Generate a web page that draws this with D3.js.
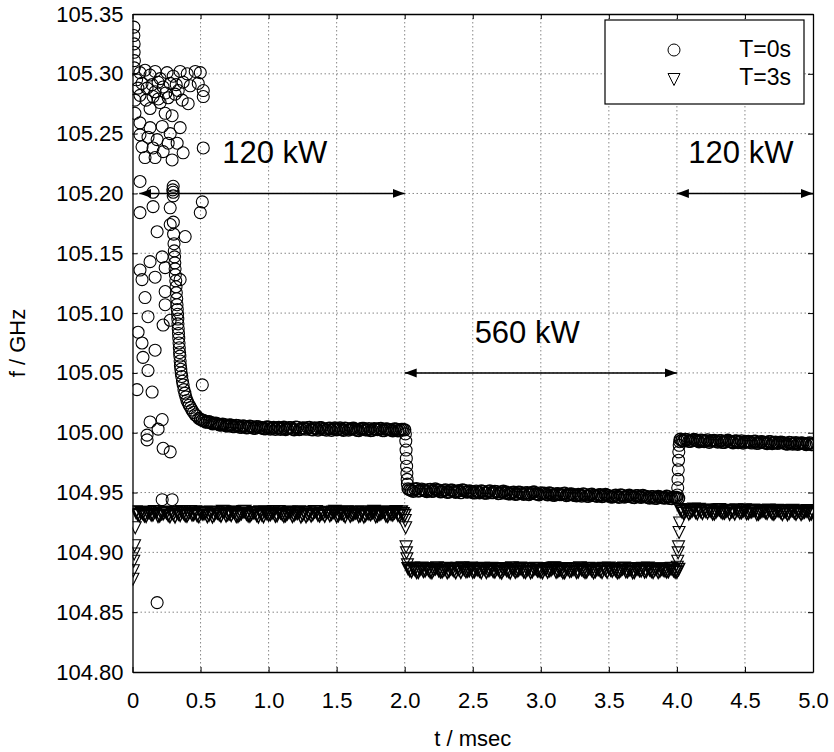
<!DOCTYPE html>
<html>
<head>
<meta charset="utf-8">
<script src="https://cdn.jsdelivr.net/npm/d3@7"></script>
<style>
  body { margin: 0; background: #fff; }
  svg { display: block; font-family: "Liberation Sans", Arial, sans-serif; }
</style>
</head>
<body>
<svg id="drawing_region"></svg>
<script>
// axis ticks
const xTicks = [0, 0.5, 1.0, 1.5, 2.0, 2.5, 3.0, 3.5, 4.0, 4.5, 5.0];
const xTickLabels = ["0", "0.5", "1.0", "1.5", "2.0", "2.5", "3.0", "3.5", "4.0", "4.5", "5.0"];
const yTicks = [104.80, 104.85, 104.90, 104.95, 105.00, 105.05, 105.10, 105.15, 105.20, 105.25, 105.30, 105.35];
const yTickLabels = ["104.80", "104.85", "104.90", "104.95", "105.00", "105.05", "105.10", "105.15", "105.20", "105.25", "105.30", "105.35"];

const seriesNames = ["T=0s", "T=3s"];

// sampling step of the dense bands (msec); the "Mid" arrays are the samples half a step later
const bandStep = 0.025;

// T=0s : scattered start-up points [t, f]
const circleScatter = [
  [0.010, 105.339], [0.010, 105.332], [0.012, 105.325], [0.012, 105.318], [0.014, 105.311], [0.014, 105.305],
  [0.055, 105.301], [0.092, 105.303], [0.129, 105.299], [0.166, 105.302], [0.203, 105.296], [0.254, 105.301],
  [0.299, 105.298], [0.350, 105.302], [0.402, 105.300], [0.461, 105.302], [0.498, 105.301], [0.070, 105.292],
  [0.107, 105.288], [0.144, 105.291], [0.188, 105.293], [0.225, 105.289], [0.277, 105.292], [0.321, 105.291],
  [0.372, 105.293], [0.424, 105.290], [0.483, 105.292], [0.520, 105.286], [0.055, 105.282], [0.100, 105.278],
  [0.151, 105.281], [0.203, 105.276], [0.262, 105.280], [0.313, 105.283], [0.365, 105.278], [0.409, 105.275],
  [0.520, 105.281], [0.129, 105.271], [0.240, 105.267], [0.291, 105.265], [0.018, 105.278], [0.018, 105.267],
  [0.166, 105.285], [0.336, 105.286], [0.030, 105.295], [0.040, 105.288], [0.245, 105.284], [0.190, 105.279],
  [0.055, 105.259], [0.129, 105.255], [0.218, 105.256], [0.277, 105.250], [0.055, 105.249], [0.114, 105.247],
  [0.181, 105.245], [0.262, 105.242], [0.328, 105.242], [0.372, 105.234], [0.070, 105.239], [0.151, 105.238],
  [0.225, 105.235], [0.291, 105.228], [0.092, 105.230], [0.166, 105.230], [0.350, 105.255], [0.520, 105.238],
  [0.055, 105.210], [0.151, 105.201], [0.299, 105.206], [0.299, 105.201], [0.299, 105.198], [0.513, 105.193],
  [0.498, 105.184], [0.055, 105.184], [0.151, 105.189], [0.277, 105.188], [0.181, 105.168], [0.277, 105.174],
  [0.387, 105.164],
  [0.055, 105.136], [0.070, 105.128], [0.129, 105.143], [0.166, 105.130], [0.218, 105.147], [0.240, 105.138],
  [0.350, 105.128], [0.092, 105.113], [0.114, 105.097], [0.240, 105.118], [0.240, 105.107], [0.225, 105.090],
  [0.277, 105.094],
  [0.041, 105.084], [0.070, 105.075], [0.166, 105.069], [0.077, 105.063], [0.114, 105.052], [0.033, 105.036],
  [0.144, 105.034], [0.513, 105.040],
  [0.129, 105.009], [0.218, 105.011], [0.188, 105.003], [0.107, 104.998], [0.107, 104.994], [0.225, 104.987],
  [0.277, 104.984], [0.218, 104.944], [0.291, 104.944], [0.181, 104.858]
];

// T=0s : decay after switch-on [t, f]
const circleDecay = [
  [0.296, 105.203], [0.300, 105.176], [0.302, 105.166], [0.305, 105.158], [0.307, 105.152], [0.309, 105.147],
  [0.311, 105.142], [0.313, 105.137], [0.315, 105.132], [0.318, 105.127], [0.320, 105.122], [0.322, 105.117],
  [0.325, 105.112], [0.327, 105.107], [0.329, 105.103], [0.331, 105.099], [0.333, 105.095], [0.334, 105.091],
  [0.336, 105.087], [0.338, 105.083], [0.340, 105.079], [0.342, 105.075], [0.344, 105.071], [0.346, 105.067],
  [0.348, 105.064], [0.350, 105.060], [0.352, 105.056], [0.355, 105.053], [0.358, 105.050], [0.362, 105.047],
  [0.367, 105.043], [0.372, 105.040], [0.378, 105.036], [0.385, 105.033], [0.392, 105.030], [0.400, 105.027],
  [0.408, 105.025], [0.417, 105.023], [0.427, 105.021], [0.437, 105.019], [0.448, 105.017], [0.460, 105.015],
  [0.472, 105.014], [0.486, 105.012]
];

// T=0s : 120 kW plateau, from t = 0.500
const circleBand1 = [
  105.0112, 105.0101, 105.0090, 105.0086, 105.0077, 105.0074, 105.0064, 105.0068, 105.0057, 105.0062,
  105.0051, 105.0058, 105.0046, 105.0053, 105.0043, 105.0050, 105.0037, 105.0049, 105.0041, 105.0033,
  105.0046, 105.0038, 105.0029, 105.0044, 105.0035, 105.0027, 105.0043, 105.0032, 105.0047, 105.0026,
  105.0039, 105.0030, 105.0044, 105.0024, 105.0036, 105.0041, 105.0028, 105.0022, 105.0038, 105.0033,
  105.0025, 105.0040, 105.0021, 105.0034, 105.0029, 105.0037, 105.0020, 105.0031, 105.0036, 105.0024,
  105.0018, 105.0033, 105.0027, 105.0035, 105.0019, 105.0030, 105.0023, 105.0032, 105.0017, 105.0028,
  105.0024
];
const circleBand1Mid = [
  105.0104, 105.0089, 105.0092, 105.0075, 105.0080, 105.0066, 105.0071, 105.0058, 105.0065, 105.0052,
  105.0060, 105.0047, 105.0056, 105.0042, 105.0054, 105.0039, 105.0051, 105.0044, 105.0035, 105.0048,
  105.0031, 105.0045, 105.0040, 105.0028, 105.0046, 105.0034, 105.0041, 105.0025, 105.0045, 105.0031,
  105.0037, 105.0043, 105.0027, 105.0039, 105.0023, 105.0042, 105.0030, 105.0035, 105.0021, 105.0039,
  105.0032, 105.0026, 105.0038, 105.0022, 105.0035, 105.0028, 105.0019, 105.0036, 105.0025, 105.0033,
  105.0021, 105.0030, 105.0034, 105.0018, 105.0031, 105.0026, 105.0016, 105.0030, 105.0022, 105.0027
];
// T=0s : step down at 2.0 msec [t, f]
const circleStep1 = [
  [2.005, 104.9990], [2.008, 104.9930], [2.010, 104.9855], [2.012, 104.9785],
  [2.014, 104.9720], [2.016, 104.9660], [2.018, 104.9610], [2.020, 104.9570]
];
// T=0s : 560 kW plateau, from t = 2.025
const circleBand2 = [
  104.9531, 104.9518, 104.9527, 104.9512, 104.9529, 104.9515, 104.9524, 104.9510, 104.9530, 104.9519,
  104.9508, 104.9522, 104.9505, 104.9519, 104.9503, 104.9516, 104.9521, 104.9506, 104.9514, 104.9501,
  104.9512, 104.9498, 104.9510, 104.9495, 104.9513, 104.9500, 104.9507, 104.9493, 104.9511, 104.9502,
  104.9490, 104.9503, 104.9488, 104.9501, 104.9485, 104.9499, 104.9492, 104.9504, 104.9487, 104.9497,
  104.9494, 104.9481, 104.9492, 104.9478, 104.9490, 104.9483, 104.9495, 104.9480, 104.9489, 104.9476,
  104.9485, 104.9471, 104.9483, 104.9469, 104.9486, 104.9474, 104.9480, 104.9467, 104.9484, 104.9472,
  104.9463, 104.9477, 104.9461, 104.9475, 104.9466, 104.9478, 104.9460, 104.9473, 104.9464, 104.9476,
  104.9468, 104.9455, 104.9466, 104.9452, 104.9463, 104.9457, 104.9469, 104.9451, 104.9462, 104.9456
];
const circleBand2Mid = [
  104.9524, 104.9511, 104.9533, 104.9516, 104.9521, 104.9508, 104.9526, 104.9513, 104.9519, 104.9507,
  104.9517, 104.9503, 104.9520, 104.9509, 104.9511, 104.9499, 104.9518, 104.9504, 104.9509, 104.9497,
  104.9506, 104.9514, 104.9496, 104.9508, 104.9499, 104.9510, 104.9491, 104.9505, 104.9496, 104.9489,
  104.9498, 104.9486, 104.9502, 104.9491, 104.9496, 104.9483, 104.9500, 104.9489, 104.9481, 104.9493,
  104.9487, 104.9496, 104.9479, 104.9488, 104.9484, 104.9491, 104.9475, 104.9486, 104.9482, 104.9473,
  104.9479, 104.9488, 104.9470, 104.9481, 104.9476, 104.9468, 104.9482, 104.9471, 104.9477, 104.9465,
  104.9472, 104.9466, 104.9479, 104.9462, 104.9471, 104.9469, 104.9458, 104.9474, 104.9461, 104.9467,
  104.9459, 104.9465, 104.9453, 104.9467, 104.9458, 104.9454, 104.9464, 104.9450, 104.9460, 104.9453
];
// T=0s : step up at 4.0 msec [t, f]
const circleStep2 = [
  [4.004, 104.9480], [4.006, 104.9540], [4.008, 104.9610], [4.010, 104.9690],
  [4.012, 104.9770], [4.014, 104.9840], [4.017, 104.9895], [4.020, 104.9925]
];
// T=0s : 120 kW plateau, from t = 4.025
const circleBand3 = [
  104.9945, 104.9932, 104.9941, 104.9929, 104.9944, 104.9933, 104.9938, 104.9926, 104.9940, 104.9930,
  104.9936, 104.9923, 104.9934, 104.9921, 104.9937, 104.9925, 104.9930, 104.9918, 104.9932, 104.9922,
  104.9927, 104.9915, 104.9929, 104.9913, 104.9924, 104.9917, 104.9926, 104.9910, 104.9921, 104.9914,
  104.9919, 104.9907, 104.9918, 104.9905, 104.9916, 104.9909, 104.9913, 104.9902, 104.9915, 104.9904
];
const circleBand3Mid = [
  104.9937, 104.9943, 104.9928, 104.9936, 104.9939, 104.9925, 104.9935, 104.9931, 104.9920, 104.9934,
  104.9928, 104.9933, 104.9919, 104.9929, 104.9926, 104.9916, 104.9931, 104.9923, 104.9914, 104.9925,
  104.9920, 104.9927, 104.9912, 104.9922, 104.9918, 104.9909, 104.9924, 104.9916, 104.9911, 104.9920,
  104.9913, 104.9906, 104.9917, 104.9910, 104.9903, 104.9914, 104.9908, 104.9911, 104.9901
];

// T=3s : start [t, f]
const triStep0 = [
  [0.003, 104.8780], [0.006, 104.8850], [0.009, 104.8930], [0.012, 104.8990], [0.015, 104.9060], [0.020, 104.9210]
];
// T=3s : 120 kW plateau, from t = 0.025
const triBand1 = [
  104.9341, 104.9312, 104.9330, 104.9305, 104.9338, 104.9318, 104.9344, 104.9309, 104.9327, 104.9335,
  104.9303, 104.9322, 104.9340, 104.9314, 104.9331, 104.9307, 104.9343, 104.9320, 104.9311, 104.9336,
  104.9326, 104.9304, 104.9339, 104.9316, 104.9333, 104.9308, 104.9342, 104.9321, 104.9313, 104.9337,
  104.9306, 104.9329, 104.9345, 104.9310, 104.9324, 104.9334, 104.9302, 104.9319, 104.9340, 104.9315,
  104.9332, 104.9307, 104.9343, 104.9323, 104.9311, 104.9338, 104.9305, 104.9328, 104.9341, 104.9317,
  104.9303, 104.9334, 104.9322, 104.9344, 104.9309, 104.9326, 104.9336, 104.9312, 104.9339, 104.9304,
  104.9330, 104.9318, 104.9342, 104.9308, 104.9325, 104.9337, 104.9314, 104.9301, 104.9333, 104.9320,
  104.9345, 104.9310, 104.9327, 104.9339, 104.9306, 104.9323, 104.9335, 104.9316, 104.9341, 104.9312
];
const triBand1Mid = [
  104.9322, 104.9338, 104.9309, 104.9333, 104.9317, 104.9343, 104.9306, 104.9329, 104.9340, 104.9313,
  104.9336, 104.9301, 104.9325, 104.9344, 104.9311, 104.9331, 104.9319, 104.9342, 104.9304, 104.9327,
  104.9337, 104.9315, 104.9302, 104.9335, 104.9321, 104.9345, 104.9310, 104.9328, 104.9339, 104.9306,
  104.9318, 104.9343, 104.9324, 104.9308, 104.9336, 104.9314, 104.9341, 104.9303, 104.9329, 104.9320,
  104.9344, 104.9312, 104.9334, 104.9305, 104.9326, 104.9340, 104.9316, 104.9331, 104.9302, 104.9338,
  104.9321, 104.9309, 104.9343, 104.9315, 104.9330, 104.9307, 104.9337, 104.9324, 104.9345, 104.9311,
  104.9328, 104.9304, 104.9339, 104.9319, 104.9334, 104.9306, 104.9342, 104.9313, 104.9327, 104.9336,
  104.9303, 104.9322, 104.9340, 104.9310, 104.9332, 104.9317, 104.9344, 104.9308, 104.9326
];
// T=3s : step down at 2.0 msec [t, f]
const triStep1 = [
  [2.004, 104.9270], [2.007, 104.9210], [2.010, 104.9050], [2.013, 104.9000], [2.016, 104.8950], [2.020, 104.8900]
];
// T=3s : 560 kW plateau, from t = 2.025
const triBand2 = [
  104.8868, 104.8843, 104.8860, 104.8838, 104.8872, 104.8849, 104.8857, 104.8835, 104.8866, 104.8851,
  104.8841, 104.8869, 104.8846, 104.8862, 104.8836, 104.8858, 104.8873, 104.8844, 104.8853, 104.8839,
  104.8864, 104.8848, 104.8870, 104.8837, 104.8856, 104.8845, 104.8867, 104.8840, 104.8861, 104.8852,
  104.8834, 104.8863, 104.8847, 104.8871, 104.8842, 104.8859, 104.8836, 104.8865, 104.8850, 104.8843,
  104.8868, 104.8839, 104.8857, 104.8874, 104.8846, 104.8854, 104.8835, 104.8862, 104.8849, 104.8866,
  104.8841, 104.8860, 104.8838, 104.8869, 104.8852, 104.8844, 104.8863, 104.8837, 104.8858, 104.8872,
  104.8847, 104.8855, 104.8840, 104.8867, 104.8843, 104.8861, 104.8836, 104.8864, 104.8851, 104.8870,
  104.8845, 104.8859, 104.8838, 104.8866, 104.8848, 104.8856, 104.8842, 104.8868, 104.8853, 104.8840
];
const triBand2Mid = [
  104.8852, 104.8871, 104.8837, 104.8863, 104.8845, 104.8868, 104.8840, 104.8859, 104.8874, 104.8842,
  104.8856, 104.8835, 104.8866, 104.8849, 104.8870, 104.8838, 104.8861, 104.8847, 104.8872, 104.8843,
  104.8858, 104.8836, 104.8865, 104.8851, 104.8869, 104.8841, 104.8860, 104.8834, 104.8867, 104.8846,
  104.8873, 104.8839, 104.8857, 104.8862, 104.8837, 104.8866, 104.8844, 104.8870, 104.8848, 104.8835,
  104.8864, 104.8853, 104.8871, 104.8840, 104.8859, 104.8836, 104.8868, 104.8845, 104.8862, 104.8838,
  104.8873, 104.8850, 104.8842, 104.8866, 104.8835, 104.8861, 104.8847, 104.8869, 104.8839, 104.8857,
  104.8864, 104.8836, 104.8852, 104.8871, 104.8844, 104.8860, 104.8838, 104.8867, 104.8849, 104.8841,
  104.8872, 104.8846, 104.8858, 104.8837, 104.8865, 104.8850, 104.8843, 104.8869, 104.8839, 104.8861
];
// T=3s : step up at 4.0 msec [t, f]
const triStep2 = [
  [4.003, 104.8880], [4.006, 104.8930], [4.009, 104.9000], [4.012, 104.9050], [4.016, 104.9170], [4.020, 104.9250]
];
// T=3s : 120 kW plateau, from t = 4.025
const triBand3 = [
  104.9360, 104.9331, 104.9352, 104.9338, 104.9364, 104.9329, 104.9347, 104.9356, 104.9334, 104.9350,
  104.9326, 104.9358, 104.9341, 104.9332, 104.9355, 104.9345, 104.9327, 104.9351, 104.9337, 104.9359,
  104.9330, 104.9344, 104.9353, 104.9324, 104.9348, 104.9336, 104.9357, 104.9328, 104.9342, 104.9350,
  104.9322, 104.9346, 104.9333, 104.9354, 104.9325, 104.9343, 104.9335, 104.9349, 104.9321, 104.9340
];
const triBand3Mid = [
  104.9344, 104.9357, 104.9326, 104.9351, 104.9339, 104.9362, 104.9330, 104.9348, 104.9355, 104.9327,
  104.9342, 104.9360, 104.9333, 104.9350, 104.9324, 104.9346, 104.9358, 104.9335, 104.9352, 104.9328,
  104.9343, 104.9356, 104.9323, 104.9340, 104.9353, 104.9331, 104.9347, 104.9325, 104.9355, 104.9338,
  104.9344, 104.9321, 104.9351, 104.9334, 104.9346, 104.9323, 104.9341, 104.9352, 104.9327
];

// power annotations
const powerLabels = ["120 kW", "560 kW", "120 kW"];
const powerFrom   = [0.05, 2.0, 4.0];
const powerTo     = [2.0, 4.0, 5.0];
const powerLevel  = [105.20, 105.05, 105.20];
const powerTextAt = [1.045, 2.9, 4.47];

// build point lists (dense = part of a plateau band)
function bandPoints(start, values) {
    return values.map((f, i) => ({ t: start + i * bandStep, f: f, dense: true }));
}
function pairPoints(pairs) {
    return pairs.map(p => ({ t: p[0], f: p[1], dense: false }));
}

const circlePoints = [].concat(
    pairPoints(circleScatter),
    pairPoints(circleDecay),
    bandPoints(0.500, circleBand1),
    bandPoints(0.5125, circleBand1Mid),
    pairPoints(circleStep1),
    bandPoints(2.025, circleBand2),
    bandPoints(2.0375, circleBand2Mid),
    pairPoints(circleStep2),
    bandPoints(4.025, circleBand3),
    bandPoints(4.0375, circleBand3Mid)
);
const trianglePoints = [].concat(
    pairPoints(triStep0),
    bandPoints(0.025, triBand1),
    bandPoints(0.0375, triBand1Mid),
    pairPoints(triStep1),
    bandPoints(2.025, triBand2),
    bandPoints(2.0375, triBand2Mid),
    pairPoints(triStep2),
    bandPoints(4.025, triBand3),
    bandPoints(4.0375, triBand3Mid)
);

const config = {
    parent: '#drawing_region',
    width: 834,
    height: 752,
    margin: {top: 14, right: 21, bottom: 80, left: 132.5}
};

class FreqPlot {
    constructor(config) {
        this.config = config;
        this.init();
    }

    init() {
        const self = this;
        const cfg = self.config;

        self.svg = d3.select(cfg.parent)
            .attr("width", cfg.width)
            .attr("height", cfg.height);

        self.inner_width  = cfg.width  - cfg.margin.left - cfg.margin.right;
        self.inner_height = cfg.height - cfg.margin.top  - cfg.margin.bottom;

        self.chart = self.svg.append("g")
            .attr("transform", `translate(${cfg.margin.left},${cfg.margin.top})`);

        self.xscale = d3.scaleLinear().domain([0, 5]).range([0, self.inner_width]);
        self.yscale = d3.scaleLinear().domain([104.80, 105.35]).range([self.inner_height, 0]);

        const defs = self.svg.append("defs");
        defs.append("clipPath").attr("id", "plot-clip")
            .append("rect")
            .attr("width", self.inner_width)
            .attr("height", self.inner_height);
        defs.append("marker")
            .attr("id", "arrow-head")
            .attr("viewBox", "0 0 12 10")
            .attr("refX", 12).attr("refY", 5)
            .attr("markerWidth", 12).attr("markerHeight", 10)
            .attr("markerUnits", "userSpaceOnUse")
            .attr("orient", "auto-start-reverse")
            .append("path")
            .attr("d", "M0,0.5 L12,5 L0,9.5 Z")
            .attr("fill", "#000");
    }

    render() {
        const self = this;
        const x = self.xscale, y = self.yscale;
        const W = self.inner_width, H = self.inner_height;

        // grid
        const grid = self.chart.append("g");
        grid.selectAll(".hgrid")
            .data(yTicks.slice(1, -1))
            .join("line")
            .attr("x1", 0).attr("x2", W)
            .attr("y1", d => y(d)).attr("y2", d => y(d))
            .attr("stroke", "#888").attr("stroke-width", 1)
            .attr("stroke-dasharray", "1.5,2.5");
        grid.selectAll(".vgrid")
            .data(xTicks.slice(1, -1))
            .join("line")
            .attr("y1", 0).attr("y2", H)
            .attr("x1", d => x(d)).attr("x2", d => x(d))
            .attr("stroke", "#888").attr("stroke-width", 1)
            .attr("stroke-dasharray", "1.5,2.5");

        // markers
        const marks = self.chart.append("g").attr("clip-path", "url(#plot-clip)");
        marks.selectAll("circle")
            .data(circlePoints)
            .join("circle")
            .attr("cx", d => x(d.t))
            .attr("cy", d => y(d.f))
            .attr("r", 6)
            .attr("fill", "none")
            .attr("stroke", "#000")
            .attr("stroke-width", d => d.dense ? 1.4 : 1.1);

        const tri = "M-6,-5.5 L6,-5.5 L0,6.5 Z";
        marks.selectAll("path.tri")
            .data(trianglePoints)
            .join("path")
            .attr("class", "tri")
            .attr("d", tri)
            .attr("transform", d => `translate(${x(d.t)},${y(d.f)})`)
            .attr("fill", "none")
            .attr("stroke", "#000")
            .attr("stroke-width", d => d.dense ? 1.5 : 1.1);

        // axes (ticks point inward)
        const xaxis = d3.axisBottom(x).tickValues(xTicks)
            .tickFormat((d, i) => xTickLabels[i])
            .tickSizeInner(-5).tickSizeOuter(0).tickPadding(20);
        const yaxis = d3.axisLeft(y).tickValues(yTicks)
            .tickFormat((d, i) => yTickLabels[i])
            .tickSizeInner(-5).tickSizeOuter(0).tickPadding(9);
        const xtop = d3.axisTop(x).tickValues(xTicks).tickFormat("")
            .tickSizeInner(-5).tickSizeOuter(0);
        const yright = d3.axisRight(y).tickValues(yTicks).tickFormat("")
            .tickSizeInner(-5).tickSizeOuter(0);

        const styleAxis = g => {
            g.select(".domain").attr("stroke", "#000").attr("stroke-width", 1.3);
            g.selectAll(".tick line").attr("stroke", "#000");
            g.selectAll("text").attr("fill", "#000")
                .style("font-size", "22px")
                .style("font-family", "'Liberation Sans', Arial, sans-serif");
        };

        self.chart.append("g").attr("transform", `translate(0,${H})`).call(xaxis).call(styleAxis);
        self.chart.append("g").call(yaxis).call(styleAxis);
        self.chart.append("g").call(xtop).call(styleAxis);
        self.chart.append("g").attr("transform", `translate(${W},0)`).call(yright).call(styleAxis);

        // axis titles
        self.chart.append("text")
            .attr("x", W / 2).attr("y", H + 74)
            .attr("text-anchor", "middle")
            .style("font-size", "22px")
            .text("t / msec");
        self.chart.append("text")
            .attr("transform", `translate(${-108},${H / 2}) rotate(-90)`)
            .attr("text-anchor", "middle")
            .style("font-size", "22px")
            .text("f / GHz");

        // power annotations
        const ann = self.chart.append("g");
        powerLabels.forEach((label, i) => {
            ann.append("line")
                .attr("x1", x(powerFrom[i])).attr("x2", x(powerTo[i]))
                .attr("y1", y(powerLevel[i])).attr("y2", y(powerLevel[i]))
                .attr("stroke", "#000").attr("stroke-width", 1.5)
                .attr("marker-start", "url(#arrow-head)")
                .attr("marker-end", "url(#arrow-head)");
            ann.append("text")
                .attr("x", x(powerTextAt[i]))
                .attr("y", y(powerLevel[i]) - 30)
                .attr("text-anchor", "middle")
                .style("font-size", "31px")
                .text(label);
        });

        // legend
        const lg = self.chart.append("g").attr("transform", `translate(${W - 208},6)`);
        lg.append("rect")
            .attr("width", 199).attr("height", 84)
            .attr("fill", "#fff").attr("stroke", "#000").attr("stroke-width", 1.2);
        lg.append("circle")
            .attr("cx", 69).attr("cy", 30).attr("r", 6)
            .attr("fill", "none").attr("stroke", "#000").attr("stroke-width", 1);
        lg.append("path")
            .attr("d", tri)
            .attr("transform", "translate(69,59)")
            .attr("fill", "none").attr("stroke", "#000").attr("stroke-width", 1);
        seriesNames.forEach((name, i) => {
            lg.append("text")
                .attr("x", 186).attr("y", 37 + i * 28)
                .attr("text-anchor", "end")
                .style("font-size", "23px")
                .text(name);
        });
    }
}

const freq_plot = new FreqPlot(config);
freq_plot.render();
</script>
</body>
</html>
